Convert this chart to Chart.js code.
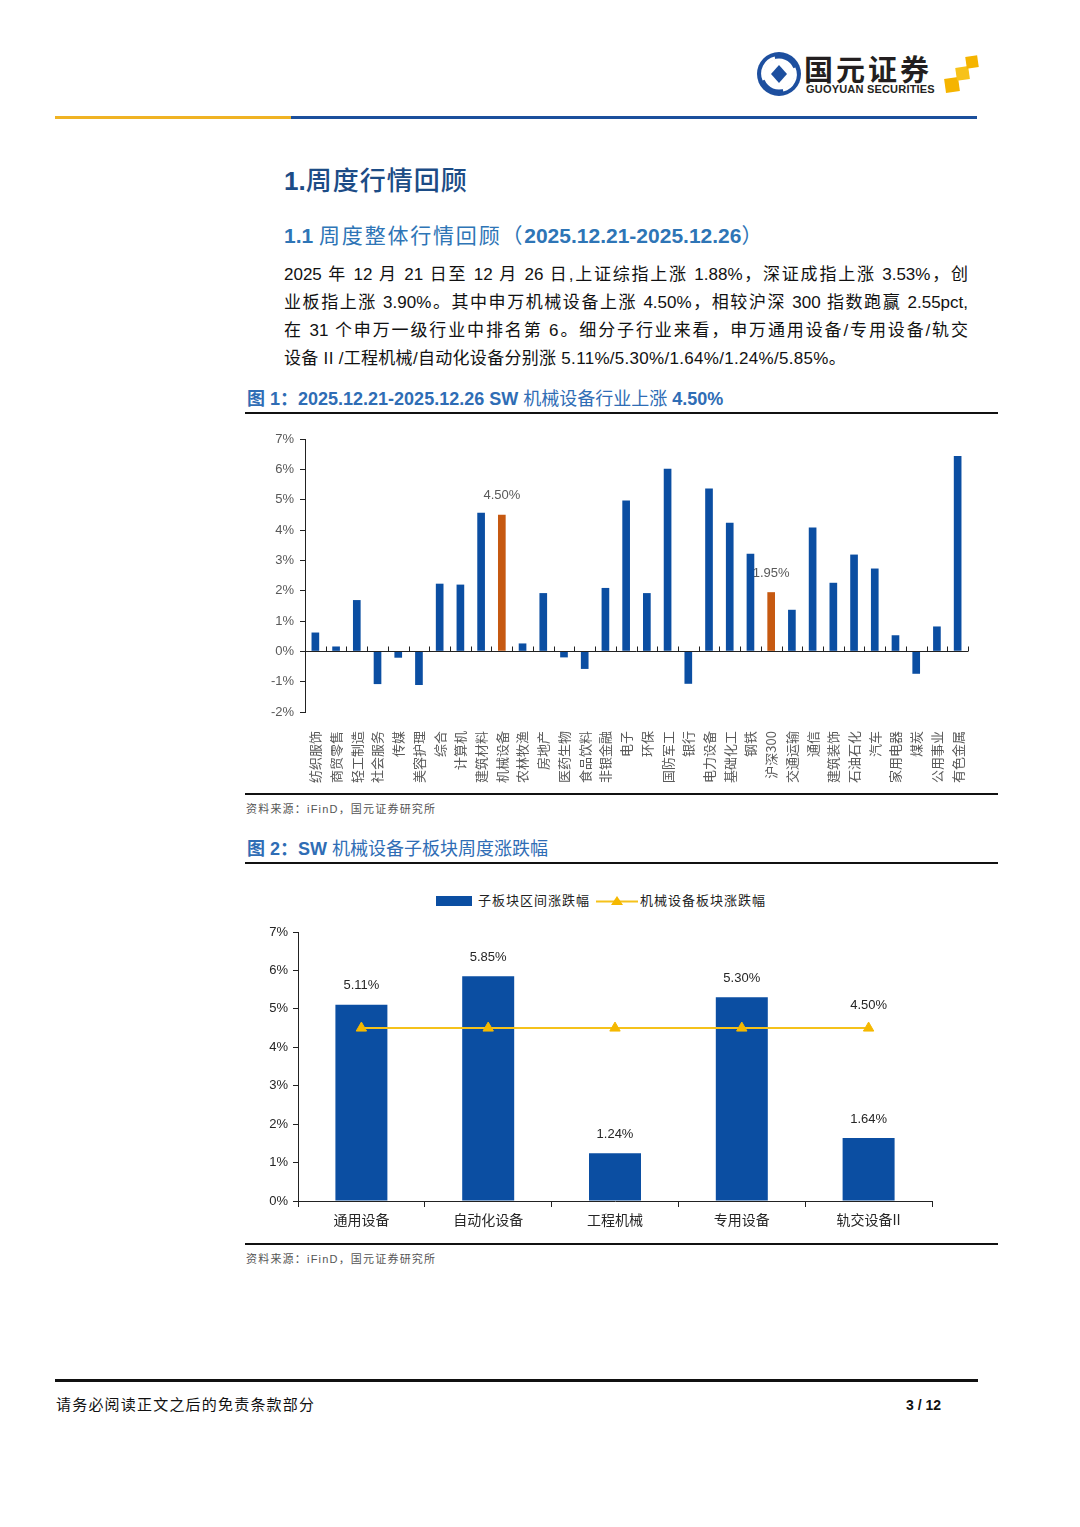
<!DOCTYPE html>
<html>
<head>
<meta charset="utf-8">
<script src="https://cdn.jsdelivr.net/npm/chart.js@4.4.1/dist/chart.umd.min.js"></script>
<style>
  body{margin:0;background:#fff;}
  #page{position:relative;width:1080px;height:1527px;overflow:hidden;background:#fff;
    font-family:"Liberation Sans","Noto Sans CJK SC",sans-serif;color:#111;}
  .abs{position:absolute;white-space:nowrap;}
  .rule{position:absolute;background:#111;}
  .h1{left:284px;top:164px;font-size:26px;line-height:34px;color:#1c4c86;font-weight:bold;}
  .h1 .cj{font-weight:500;letter-spacing:1px;}
  .h2{left:284px;top:221px;font-size:21px;line-height:30px;color:#2e75b6;}
  .h2 .cj{letter-spacing:1.8px;}
  .h2 b{font-weight:bold;}
  .para{position:absolute;left:284px;top:261px;width:684px;font-size:17px;line-height:28px;color:#111;}
  .para div{text-align:justify;text-align-last:justify;white-space:nowrap;}
  .para div.last{text-align-last:left;letter-spacing:0.3px;}
  .figt{left:247px;font-size:18px;line-height:24px;color:#2f6db5;font-weight:bold;}
  .figt .cj{font-weight:normal;}
  .src{left:246px;font-size:11px;line-height:16px;color:#555;letter-spacing:1.2px;}
  canvas{position:absolute;}
  .leg{position:absolute;top:893px;font-size:13px;line-height:16px;color:#222;letter-spacing:1px;}
</style>
</head>
<body>
<div id="page">
  <!-- logo -->
  <svg class="abs" style="left:755px;top:50px" width="48" height="48" viewBox="0 0 48 48">
    <circle cx="24" cy="24" r="22" fill="#1d4f9f"/>
    <circle cx="24" cy="24" r="15.5" fill="#fff"/>
    <path d="M9 30 A16 16 0 0 1 20 8" stroke="#fff" stroke-width="3" fill="none"/>
    <path d="M39 18 A16 16 0 0 1 28 40" stroke="#fff" stroke-width="3" fill="none"/>
    <path d="M24 15 L32 24 L24 33 L16 24 Z" fill="#1d4f9f"/>
  </svg>
  <div class="abs" style="left:804px;top:50px;font-size:29px;line-height:36px;font-weight:bold;color:#231f20;letter-spacing:3px;font-family:'Noto Sans CJK SC';">国元证券</div>
  <div class="abs" style="left:806px;top:82px;font-size:11px;line-height:14px;font-weight:bold;color:#231f20;letter-spacing:0.2px;">GUOYUAN SECURITIES</div>
  <svg class="abs" style="left:942px;top:54px" width="40" height="42" viewBox="0 0 40 42">
    <rect x="3" y="24" width="14" height="14" fill="#f5b400" transform="rotate(-8 10 31)"/>
    <rect x="14" y="13" width="13" height="13" fill="#f7c21a" transform="rotate(-8 20 19)"/>
    <rect x="24" y="2" width="12" height="12" fill="#f5b400" transform="rotate(-8 30 8)"/>
  </svg>
  <div class="rule" style="left:55px;top:116px;width:236px;height:3px;background:#f0b323"></div>
  <div class="rule" style="left:291px;top:116px;width:686px;height:3px;background:#1b4f9c"></div>

  <div class="abs h1">1.<span class="cj">周度行情回顾</span></div>
  <div class="abs h2"><b>1.1</b> <span class="cj">周度整体行情回顾（</span><b>2025.12.21-2025.12.26</b>）</div>
  <div class="para">
    <div>2025 年 12 月 21 日至 12 月 26 日,上证综指上涨 1.88%，深证成指上涨 3.53%，创</div>
    <div>业板指上涨 3.90%。其中申万机械设备上涨 4.50%，相较沪深 300 指数跑赢 2.55pct,</div>
    <div>在 31 个申万一级行业中排名第 6。细分子行业来看，申万通用设备/专用设备/轨交</div>
    <div class="last">设备 II /工程机械/自动化设备分别涨 5.11%/5.30%/1.64%/1.24%/5.85%。</div>
  </div>

  <div class="abs figt" style="top:387px">图 1：2025.12.21-2025.12.26 SW <span class="cj">机械设备行业上涨</span> 4.50%</div>
  <div class="rule" style="left:245px;top:412px;width:753px;height:2px"></div>
  <canvas id="c1" style="left:245px;top:415px" width="753" height="378"></canvas>
  <div class="rule" style="left:245px;top:793px;width:753px;height:2px"></div>
  <div class="abs src" style="top:801px">资料来源：iFinD，国元证券研究所</div>

  <div class="abs figt" style="top:837px">图 2：SW <span class="cj">机械设备子板块周度涨跌幅</span></div>
  <div class="rule" style="left:245px;top:862px;width:753px;height:2px"></div>
  <div class="leg" style="left:436px;">
    <span style="display:inline-block;width:36px;height:10px;background:#0b4ea2;vertical-align:-1px;margin-right:6px"></span>子板块区间涨跌幅
  </div>
  <svg class="abs" style="left:596px;top:893px" width="42" height="16" viewBox="0 0 42 16">
    <line x1="0" y1="8.5" x2="42" y2="8.5" stroke="#f5c21b" stroke-width="2"/>
    <path d="M21 3 L27 12 L15 12 Z" fill="#f5b800"/>
  </svg>
  <div class="leg" style="left:640px;">机械设备板块涨跌幅</div>
  <canvas id="c2" style="left:245px;top:865px" width="753" height="378"></canvas>
  <div class="rule" style="left:245px;top:1243px;width:753px;height:2px"></div>
  <div class="abs src" style="top:1251px">资料来源：iFinD，国元证券研究所</div>

  <div class="rule" style="left:55px;top:1379px;width:923px;height:3px"></div>
  <div class="abs" style="left:56px;top:1395px;font-size:15px;line-height:20px;color:#111;letter-spacing:1.2px;">请务必阅读正文之后的免责条款部分</div>
  <div class="abs" style="left:906px;top:1396px;font-size:14px;line-height:18px;font-weight:bold;color:#111;">3 / 12</div>
</div>

<script>
// 图1：申万一级行业周涨跌幅（%）
const industries = ['纺织服饰','商贸零售','轻工制造','社会服务','传媒','美容护理','综合','计算机','建筑材料','机械设备',
  '农林牧渔','房地产','医药生物','食品饮料','非银金融','电子','环保','国防军工','银行','电力设备',
  '基础化工','钢铁','沪深300','交通运输','通信','建筑装饰','石油石化','汽车','家用电器','煤炭','公用事业','有色金属'];
const industryChg = [0.62,0.16,1.69,-1.08,-0.21,-1.11,2.23,2.20,4.57,4.50,
  0.26,1.92,-0.20,-0.58,2.09,4.97,1.92,6.02,-1.07,5.37,
  4.24,3.22,1.95,1.37,4.08,2.26,3.19,2.73,0.53,-0.74,0.82,6.44];
const highlighted = ['机械设备','沪深300'];
const yTicks1 = [-2,-1,0,1,2,3,4,5,6,7];

// 图2：机械设备子板块
const subSectors = ['通用设备','自动化设备','工程机械','专用设备','轨交设备II'];
const subChg = [5.11,5.85,1.24,5.30,1.64];
const sectorChg = [4.50,4.50,4.50,4.50,4.50];
const yTicks2 = [0,1,2,3,4,5,6,7];

const BLUE = '#0b4ea2', ORANGE = '#c65911', YELLOW = '#f5c21b';
Chart.defaults.font.family = '"Liberation Sans","Noto Sans CJK SC",sans-serif';
Chart.defaults.animation = false;

const zeroAxis = {
  id:'zeroAxis',
  afterDatasetsDraw(chart){
    const {ctx, chartArea:{left,right}, scales:{x,y}} = chart;
    const y0 = Math.round(y.getPixelForValue(0)) + 0.5;
    ctx.save();
    ctx.strokeStyle = '#222'; ctx.lineWidth = 1;
    ctx.beginPath();
    ctx.moveTo(left, y0); ctx.lineTo(right, y0);
    for(let i=0;i<industries.length;i++){
      const px = Math.round((x.getPixelForValue(i)+x.getPixelForValue(i+1))/2) + 0.5;
      ctx.moveTo(px, y0); ctx.lineTo(px, y0-5);
    }
    ctx.stroke();
    ctx.restore();
  }
};
const hiLabels = {
  id:'hiLabels',
  beforeDatasetsDraw(chart){
    const {ctx, scales:{x,y}} = chart;
    ctx.save();
    ctx.font = '13px "Liberation Sans"'; ctx.fillStyle = '#595959';
    ctx.textAlign = 'center'; ctx.textBaseline = 'middle';
    industries.forEach((n,i)=>{
      if(!highlighted.includes(n)) return;
      const v = industryChg[i];
      ctx.fillText(v.toFixed(2)+'%', x.getPixelForValue(i), y.getPixelForValue(v)-19);
    });
    ctx.restore();
  }
};

new Chart(document.getElementById('c1'), {
  type:'bar',
  data:{
    labels:industries,
    datasets:[{
      data:industryChg,
      backgroundColor:industries.map(n=>highlighted.includes(n)?ORANGE:BLUE),
      barPercentage:0.37, categoryPercentage:1
    }]
  },
  options:{
    responsive:false,
    layout:{padding:{top:24,right:30,left:0,bottom:0}},
    plugins:{legend:{display:false},tooltip:{enabled:false}},
    scales:{
      x:{
        grid:{display:false}, border:{display:false},
        ticks:{autoSkip:false,minRotation:90,maxRotation:90,padding:11,color:'#595959',
          font:{size:13,family:'"Noto Sans CJK SC","Liberation Sans"'}},
        afterFit(s){ s.height = 81; }
      },
      y:{
        min:-2,max:7,
        afterBuildTicks(s){ s.ticks = yTicks1.map(v=>({value:v})); },
        grid:{drawOnChartArea:false,tickLength:5,color:'#222'},
        border:{color:'#222'},
        ticks:{padding:6,color:'#595959',font:{size:13},callback:v=>v+'%'},
        afterFit(s){ s.width = 60; }
      }
    }
  },
  plugins:[zeroAxis,hiLabels]
});

const valLabels = {
  id:'valLabels',
  afterDatasetsDraw(chart){
    const {ctx, scales:{x,y}} = chart;
    ctx.save();
    ctx.font = '13px "Liberation Sans"'; ctx.fillStyle = '#262626';
    ctx.textAlign = 'center'; ctx.textBaseline = 'middle';
    subChg.forEach((v,i)=>{
      ctx.fillText(v.toFixed(2)+'%', x.getPixelForValue(i), y.getPixelForValue(v)-19);
    });
    const last = sectorChg.length-1;
    ctx.fillText(sectorChg[last].toFixed(2)+'%', x.getPixelForValue(last), y.getPixelForValue(sectorChg[last])-23);
    ctx.restore();
  }
};

new Chart(document.getElementById('c2'), {
  data:{
    labels:subSectors,
    datasets:[
      {type:'line', label:'机械设备板块涨跌幅', data:sectorChg, order:0,
        borderColor:YELLOW, borderWidth:2, pointStyle:'triangle', pointRadius:6,
        pointBackgroundColor:'#f5b800', pointBorderColor:'#f5b800', pointBorderWidth:1},
      {type:'bar', label:'子板块区间涨跌幅', data:subChg, order:1,
        backgroundColor:BLUE, barPercentage:0.41, categoryPercentage:1}
    ]
  },
  options:{
    responsive:false,
    layout:{padding:{top:67,right:66,left:0,bottom:0}},
    plugins:{legend:{display:false},tooltip:{enabled:false}},
    scales:{
      x:{
        grid:{drawOnChartArea:false,tickLength:6,color:'#222',offset:true},
        border:{color:'#222'},
        ticks:{padding:4,color:'#262626',font:{size:14,family:'"Noto Sans CJK SC","Liberation Sans"'}},
        afterFit(s){ s.height = 42; }
      },
      y:{
        min:0,max:7,
        afterBuildTicks(s){ s.ticks = yTicks2.map(v=>({value:v})); },
        grid:{drawOnChartArea:false,tickLength:5,color:'#222'},
        border:{color:'#222'},
        ticks:{padding:5,color:'#262626',font:{size:13},callback:v=>v+'%'},
        afterFit(s){ s.width = 53; }
      }
    }
  },
  plugins:[valLabels]
});
</script>
</body>
</html>
